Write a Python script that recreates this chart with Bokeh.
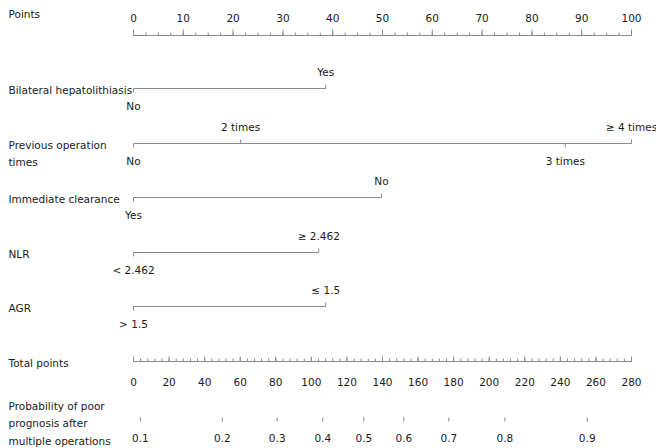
from bokeh.plotting import figure
from bokeh.models import Range1d
from bokeh.core.properties import value
from bokeh.embed import file_html
from bokeh.resources import INLINE

# ---------------- data ----------------
points_ticks = [0, 10, 20, 30, 40, 50, 60, 70, 80, 90, 100]
points_minor_step = 2.5

bilateral_levels = ["No", "Yes"]
bilateral_points = [0, 38.6]

previous_levels = ["No", "2 times", "3 times", "\u2265 4 times"]
previous_points = [0, 21.5, 86.7, 100]

clearance_levels = ["Yes", "No"]
clearance_points = [0, 49.8]

nlr_levels = ["< 2.462", "\u2265 2.462"]
nlr_points = [0, 37.2]

agr_levels = ["> 1.5", "\u2264 1.5"]
agr_points = [0, 38.6]

total_ticks = [0, 20, 40, 60, 80, 100, 120, 140, 160, 180, 200, 220, 240, 260, 280]
total_minor_step = 4

prob_labels = ["0.1", "0.2", "0.3", "0.4", "0.5", "0.6", "0.7", "0.8", "0.9"]
prob_total_points = [3.9, 49.9, 80.8, 106.4, 129.5, 152.0, 177.3, 208.8, 255.1]

# ---------------- layout ----------------
W, H = 656, 448
X0_PX, X100_PX = 133, 631          # canvas px where 0 and 100 points fall
span = W / (X100_PX - X0_PX) * 100
xs = -X0_PX / (X100_PX - X0_PX) * 100
total_scale = 280 / 100

FONT = value("DejaVu Sans")
FS = "10.5px"
TXT = "#1a1a1a"
LINE = "#8a8a8a"

p = figure(width=W, height=H, output_backend="svg", toolbar_location=None,
           x_range=Range1d(xs, xs + span), y_range=Range1d(H, 0),
           x_axis_location=None, y_axis_location=None, min_border=0,
           outline_line_color=None)
p.extra_x_ranges = {"total": Range1d(xs * total_scale, (xs + span) * total_scale)}
p.grid.visible = False
p.background_fill_color = "white"
p.border_fill_color = "white"

LEFT_X = xs + 8 / (X100_PX - X0_PX) * 100

def text(x, y, t, align="center", baseline="middle", rng="default", xoff=0):
    p.text(x=x, y=y, text=t, text_font=FONT, text_font_size=FS, text_color=TXT,
           text_align=align, text_baseline=baseline, x_range_name=rng, x_offset=xoff)

def name(lines, y0, step=17):
    text([LEFT_X] * len(lines), [y0 + i * step for i in range(len(lines))], lines, align="left")

# Points axis
ROW_PTS = 35
name(["Points"], 13)
p.segment(x0=[0], y0=[ROW_PTS], x1=[100], y1=[ROW_PTS], line_color=LINE, line_width=1)
n_minor = int(100 / points_minor_step) + 1
minor = [i * points_minor_step for i in range(n_minor)]
p.segment(x0=minor, y0=[ROW_PTS] * n_minor, x1=minor, y1=[ROW_PTS - 3] * n_minor,
          line_color=LINE, line_width=1)
p.segment(x0=points_ticks, y0=[ROW_PTS] * len(points_ticks), x1=points_ticks,
          y1=[ROW_PTS - 6] * len(points_ticks), line_color=LINE, line_width=1)
text(points_ticks, [17] * len(points_ticks), [str(t) for t in points_ticks])

# Variables
variables = [
    (["Bilateral hepatolithiasis"], bilateral_levels, bilateral_points, 88, [1, -1]),
    (["Previous operation", "times"], previous_levels, previous_points, 143, [1, -1, 1, -1]),
    (["Immediate clearance"], clearance_levels, clearance_points, 197, [1, -1]),
    (["NLR"], nlr_levels, nlr_points, 252, [1, -1]),
    (["AGR"], agr_levels, agr_points, 306, [1, -1]),
]
for lines, levels, pts, row, sides in variables:
    name(lines, row + 1)
    p.segment(x0=[min(pts)], y0=[row], x1=[max(pts)], y1=[row], line_color=LINE, line_width=1)
    p.segment(x0=pts, y0=[row] * len(pts), x1=pts, y1=[row + 4 * s for s in sides],
              line_color=LINE, line_width=1)
    text(pts, [row + 17 * s for s in sides], levels)

# Total points axis
ROW_TOT = 361
name(["Total points"], 362)
p.segment(x0=[0], y0=[ROW_TOT], x1=[280], y1=[ROW_TOT], line_color=LINE, line_width=1,
          x_range_name="total")
tminor = list(range(0, 281, total_minor_step))
p.segment(x0=tminor, y0=[ROW_TOT] * len(tminor), x1=tminor, y1=[ROW_TOT - 3] * len(tminor),
          line_color=LINE, line_width=1, x_range_name="total")
p.segment(x0=total_ticks, y0=[ROW_TOT] * len(total_ticks), x1=total_ticks,
          y1=[ROW_TOT - 5] * len(total_ticks), line_color=LINE, line_width=1,
          x_range_name="total")
text(total_ticks, [381] * len(total_ticks), [str(t) for t in total_ticks], rng="total")

# Probability axis
name(["Probability of poor", "prognosis after", "multiple operations"], 405, 17.5)
p.segment(x0=prob_total_points, y0=[417] * len(prob_labels), x1=prob_total_points,
          y1=[421] * len(prob_labels), line_color=LINE, line_width=1, x_range_name="total")
text(prob_total_points, [437] * len(prob_labels), prob_labels, rng="total")

open("out.html", "w").write(file_html(p, INLINE))
